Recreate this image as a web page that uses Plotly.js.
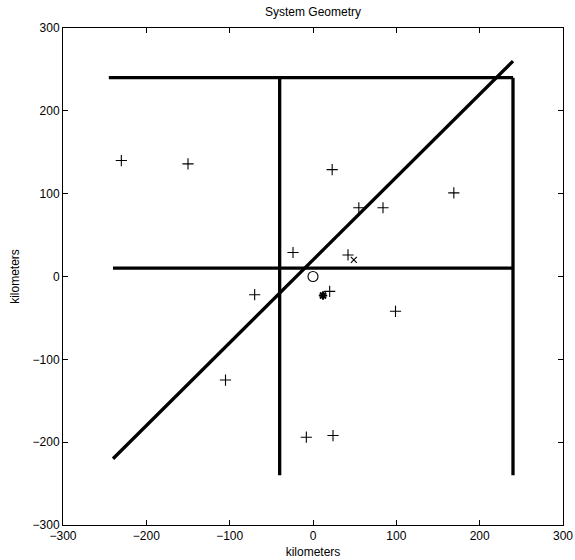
<!DOCTYPE html>
<html>
<head>
<meta charset="utf-8">
<script src="https://cdn.plot.ly/plotly-3.0.1.min.js"></script>
<style>html,body{margin:0;padding:0;background:#fff;}#chart{width:575px;height:560px;}</style>
</head>
<body>
<div id="chart"></div>
<script>
// Geometry segments (start -> end), in kilometers
var segX0 = [-245, -40, 240, -240, -240];
var segY0 = [240, 240, 240, 10, -220];
var segX1 = [240, -40, 240, 240, 240];
var segY1 = [240, -240, -240, 10, 260];

// "+" markers
var plusX = [-230, -150, -24, 23, 55, 84, 169, 42, -70, -105, -8, 20, 99, 24];
var plusY = [140, 136, 29, 129, 83, 83, 101, 26, -22, -125, -194, -18, -42, -192];

// "x" marker
var crossX = [49];
var crossY = [20];

// "o" marker
var circleX = [0];
var circleY = [0];

// "*" marker
var starX = [12];
var starY = [-23];

var tickVals = [-300, -200, -100, 0, 100, 200, 300];

var traces = [];
for (var i = 0; i < segX0.length; i++) {
  traces.push({
    x: [segX0[i], segX1[i]],
    y: [segY0[i], segY1[i]],
    mode: 'lines',
    line: {color: '#000', width: 3.3},
    hoverinfo: 'skip',
    showlegend: false
  });
}
traces.push({x: plusX, y: plusY, mode: 'markers', showlegend: false,
  marker: {symbol: 'cross-thin-open', size: 8, color: '#000', line: {color: '#000', width: 1.1}}});
traces.push({x: crossX, y: crossY, mode: 'markers', showlegend: false,
  marker: {symbol: 'x-thin-open', size: 6, color: '#000', line: {color: '#000', width: 1.1}}});
traces.push({x: circleX, y: circleY, mode: 'markers', showlegend: false,
  marker: {symbol: 'circle-open', size: 10, color: '#000', line: {color: '#000', width: 1.1}}});
traces.push({x: starX, y: starY, mode: 'markers', showlegend: false,
  marker: {symbol: 'asterisk-open', size: 7, color: '#000', line: {color: '#000', width: 2}}});

var axisCommon = {
  range: [-300, 300],
  tickvals: tickVals,
  ticks: 'inside',
  ticklen: 5,
  tickcolor: '#000',
  tickwidth: 1,
  showline: true,
  linecolor: '#000',
  linewidth: 1,
  mirror: 'ticks',
  showgrid: false,
  zeroline: false,
  tickfont: {family: 'Liberation Sans, Arial, sans-serif', size: 12, color: '#000'}
};

var layout = {
  width: 575,
  height: 560,
  margin: {l: 63, r: 11.5, t: 27.5, b: 35, pad: 0},
  paper_bgcolor: '#fff',
  plot_bgcolor: '#fff',
  font: {family: 'Liberation Sans, Arial, sans-serif', size: 12, color: '#000'},
  title: {text: 'System Geometry', x: 0.5, xref: 'paper', xanchor: 'center',
          y: 1 - 12 / 560, yref: 'container', yanchor: 'middle',
          font: {family: 'Liberation Sans, Arial, sans-serif', size: 12, color: '#000'}},
  xaxis: Object.assign({}, axisCommon, {title: {text: 'kilometers', standoff: 5,
          font: {family: 'Liberation Sans, Arial, sans-serif', size: 12, color: '#000'}}}),
  yaxis: Object.assign({}, axisCommon, {title: {text: 'kilometers', standoff: 10,
          font: {family: 'Liberation Sans, Arial, sans-serif', size: 12, color: '#000'}}}),
  showlegend: false
};

Plotly.newPlot('chart', traces, layout, {displayModeBar: false, staticPlot: true});
</script>
</body>
</html>
